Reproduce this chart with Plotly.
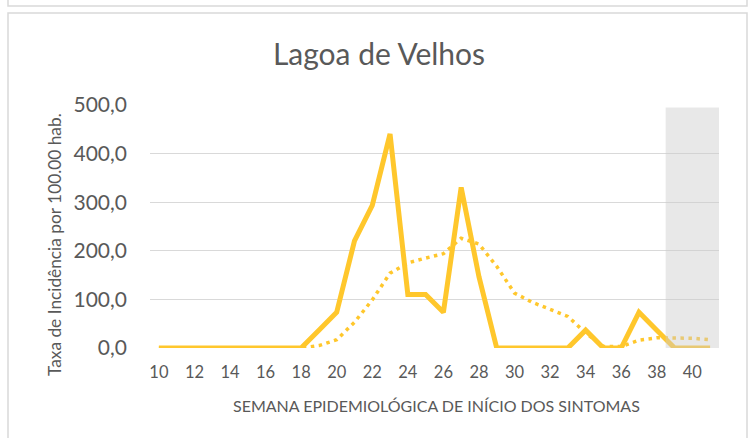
import plotly.graph_objects as go

# Epidemiological weeks and incidence rates (per 100,000 inhabitants)
weeks = list(range(10, 42))
incidence_2023 = [0, 0, 0, 0, 0, 0, 0, 0, 0,
                  36.7, 73.4, 220.2, 293.6, 440.4, 110.1, 110.1, 73.4,
                  330.3, 146.8, 0, 0, 0, 0, 0, 36.7, 0, 0, 73.4, 36.7,
                  0, 0, 0]
incidence_expected = [0, 0, 0, 0, 0, 0, 0, 0, 0,
                      5, 17, 53, 99, 154, 175, 185, 194,
                      226, 214, 168, 113, 94, 79, 65, 31, 3, 3, 16, 21,
                      21, 20, 17]

x_tick_values = list(range(10, 41, 2))
y_tick_values = [0, 100, 200, 300, 400, 500]

# Weeks still open to reporting (shaded band)
open_weeks = [39, 41]
open_band_top = 495

LINE_COLOR = "#FFC72C"
TEXT_COLOR = "#595959"
GRID_COLOR = "#D9D9D9"
FONT = "Lato"

W, H = 749, 438
ML, MR, MT, MB = 150, 30, 105, 90
PW, PH = W - ML - MR, H - MT - MB


def px_x(px):
    return (px - ML) / PW


def px_y(py):
    return (H - MB - py) / PH


fig = go.Figure()

fig.add_trace(go.Scatter(
    x=weeks, y=incidence_expected, mode="lines",
    line=dict(color=LINE_COLOR, width=3.5, dash="3.5px,4.5px"),
    cliponaxis=False, hoverinfo="skip", showlegend=False,
))
fig.add_trace(go.Scatter(
    x=weeks, y=incidence_2023, mode="lines",
    line=dict(color=LINE_COLOR, width=5),
    cliponaxis=False, showlegend=False,
))

shapes = [
    # shaded band over the latest weeks
    dict(type="rect", xref="x", yref="y",
         x0=open_weeks[0] - 0.5, x1=open_weeks[1] + 0.5,
         y0=0, y1=open_band_top,
         fillcolor="rgba(205,205,205,0.45)", line=dict(width=0), layer="above"),
    # chart frame
    dict(type="rect", xref="paper", yref="paper",
         x0=px_x(8), x1=px_x(747), y0=px_y(13), y1=px_y(445),
         line=dict(color="#D9D9D9", width=1.5), fillcolor="rgba(0,0,0,0)",
         layer="below"),
    # frame of the chart above
    dict(type="rect", xref="paper", yref="paper",
         x0=px_x(8), x1=px_x(747), y0=px_y(6), y1=px_y(-20),
         line=dict(color="#D9D9D9", width=1.5), fillcolor="rgba(0,0,0,0)",
         layer="below"),
]

annotations = [
    dict(text="Taxa de Incidência por 100.00 hab.", xref="paper", yref="paper",
         x=px_x(54), y=px_y(245), textangle=-90, showarrow=False,
         xanchor="center", yanchor="middle",
         font=dict(family=FONT, size=17.3, color=TEXT_COLOR)),
    dict(text="SEMANA EPIDEMIOLÓGICA DE INÍCIO DOS SINTOMAS", xref="paper", yref="paper",
         x=px_x(436), y=px_y(405), showarrow=False,
         xanchor="center", yanchor="middle",
         font=dict(family=FONT, size=16, color=TEXT_COLOR)),
]

fig.update_layout(
    width=W, height=H,
    margin=dict(l=ML, r=MR, t=MT, b=MB),
    paper_bgcolor="white", plot_bgcolor="white",
    separators=",.",
    title=dict(text="Lagoa de Velhos", xref="container", yref="container",
               x=379 / W, y=1 - 54 / H, xanchor="center", yanchor="middle",
               font=dict(family=FONT, size=30, color=TEXT_COLOR)),
    shapes=shapes,
    annotations=annotations,
    font=dict(family=FONT, color=TEXT_COLOR),
)

fig.update_xaxes(
    range=[9.5, 41.5], tickmode="array", tickvals=x_tick_values,
    showgrid=False, zeroline=False, showline=False, ticks="",
    ticklabelstandoff=12,
    tickfont=dict(family=FONT, size=16.5, color=TEXT_COLOR),
)
fig.update_yaxes(
    range=[0, 500], tickmode="array", tickvals=y_tick_values, tickformat=".1f",
    showgrid=True, gridcolor=GRID_COLOR, gridwidth=1.3,
    zeroline=False, showline=False, ticks="",
    ticklabelstandoff=22,
    tickfont=dict(family=FONT, size=21, color=TEXT_COLOR),
)

fig.write_html("out.html")
